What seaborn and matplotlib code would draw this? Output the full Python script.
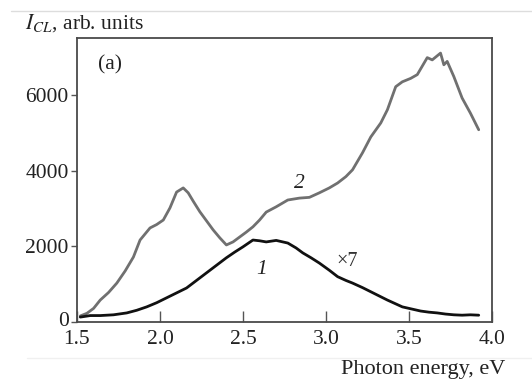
import matplotlib
matplotlib.use("Agg")
import matplotlib.pyplot as plt
import matplotlib.transforms as mtransforms
import seaborn as sns
import pandas as pd
from matplotlib.lines import Line2D

# Curve 2 (gray)
e2 = [1.52, 1.56, 1.60, 1.64, 1.69, 1.74, 1.79, 1.84, 1.88, 1.94, 1.98, 2.02, 2.06, 2.10, 2.14,
      2.17, 2.20, 2.24, 2.28, 2.32, 2.36, 2.40, 2.44, 2.48, 2.52, 2.56, 2.60, 2.64, 2.70, 2.77,
      2.84, 2.90, 2.96, 3.02, 3.07, 3.12, 3.16, 3.22, 3.27, 3.33, 3.37, 3.42, 3.46, 3.51, 3.55,
      3.61, 3.64, 3.69, 3.71, 3.73, 3.77, 3.82, 3.87, 3.92]
v2 = [160, 230, 360, 580, 780, 1030, 1350, 1720, 2170, 2490, 2580, 2700, 3020, 3440, 3550,
      3420, 3200, 2920, 2680, 2440, 2230, 2040, 2120, 2250, 2380, 2520, 2700, 2910, 3050, 3230,
      3280, 3300, 3420, 3550, 3680, 3850, 4030, 4480, 4900, 5270, 5620, 6230, 6360, 6450, 6550,
      7000, 6940, 7120, 6810, 6900, 6500, 5930, 5530, 5090]

# Curve 1 (black), x7
e1 = [1.52, 1.58, 1.64, 1.72, 1.80, 1.86, 1.92, 1.98, 2.04, 2.10, 2.16, 2.22, 2.28, 2.34, 2.40,
      2.45, 2.50, 2.56, 2.60, 2.64, 2.70, 2.77, 2.82, 2.86, 2.91, 2.96, 3.02, 3.07, 3.12, 3.16,
      3.22, 3.27, 3.32, 3.37, 3.42, 3.46, 3.52, 3.57, 3.62, 3.67, 3.72, 3.77, 3.82, 3.87, 3.92]
v1 = [130, 170, 170, 190, 240, 310, 400, 510, 640, 770, 900, 1100, 1300, 1500, 1700,
      1850, 1990, 2170, 2150, 2120, 2160, 2090, 1960, 1830, 1700, 1560, 1370, 1200, 1100, 1030,
      910, 800, 690, 580, 480, 400, 340, 290, 260, 240, 210, 190, 180, 190, 180]

xticks = [1.5, 2.0, 2.5, 3.0, 3.5, 4.0]
yticks = [0, 2000, 4000, 6000]

sns.set_style("ticks")
plt.rcParams['font.family'] = ['Liberation Serif', 'DejaVu Serif']
plt.rcParams['mathtext.fontset'] = 'stix'

FS = 15.5

fig = plt.figure(figsize=(5.32, 3.81), dpi=100)
ax = fig.add_axes([0.1447, 0.1549, 0.7801, 0.7454])

df2 = pd.DataFrame({"E": e2, "I": v2})
df1 = pd.DataFrame({"E": e1, "I": v1})
sns.lineplot(data=df2, x="E", y="I", ax=ax, color="#707070", lw=2.0, sort=False)
sns.lineplot(data=df1, x="E", y="I", ax=ax, color="#111111", lw=2.0, sort=False)

ax.set_xlim(1.5, 4.0)
ax.set_ylim(0, 7520)
ax.set_xticks(xticks)
ax.set_xticklabels(["1.5", "2.0", "2.5", "3.0", "3.5", "4.0"])
ax.set_yticks(yticks)
ax.set_xlabel("")
ax.set_ylabel("")
for s in ax.spines.values():
    s.set_color("#4a4a4a")
    s.set_linewidth(1.3)
ax.tick_params(axis="x", direction="in", length=8, width=1.0, color="#555555",
               labelsize=FS, pad=6, labelcolor="#222222")
ax.tick_params(axis="y", direction="out", length=4, width=1.0, color="#555555",
               labelsize=FS, pad=2, labelcolor="#222222")

# nudge the "0" label up slightly so it does not collide with "1.5"
zero_lbl = ax.get_yticklabels()[0]
zero_lbl.set_transform(zero_lbl.get_transform() +
                       mtransforms.ScaledTranslation(0, 3 / 100, fig.dpi_scale_trans))

ax.text(2.84, 3680, "2", fontsize=FS, style="italic", color="#222222", ha="center", va="center")
ax.text(2.61, 1380, "1", fontsize=FS, style="italic", color="#222222", ha="center", va="center")
ax.text(3.13, 1590, "×7", fontsize=14.5, color="#333333", ha="center", va="center")
ax.text(1.7, 6800, "(a)", fontsize=FS, color="#222222", ha="center", va="center")

fig.text(0.047, 0.94, r"$I_{CL}$, arb. units", fontsize=FS, color="#222222", ha="left", va="center")
fig.text(0.95, 0.03, "Photon energy, eV", fontsize=16, color="#222222", ha="right", va="center")

fig.add_artist(Line2D([0.02, 1.0], [0.972, 0.972], transform=fig.transFigure, color="#dddddd", lw=1))
fig.add_artist(Line2D([0.05, 1.0], [0.06, 0.06], transform=fig.transFigure, color="#f0f0f0", lw=1))

fig.savefig("out.png", dpi=100)
